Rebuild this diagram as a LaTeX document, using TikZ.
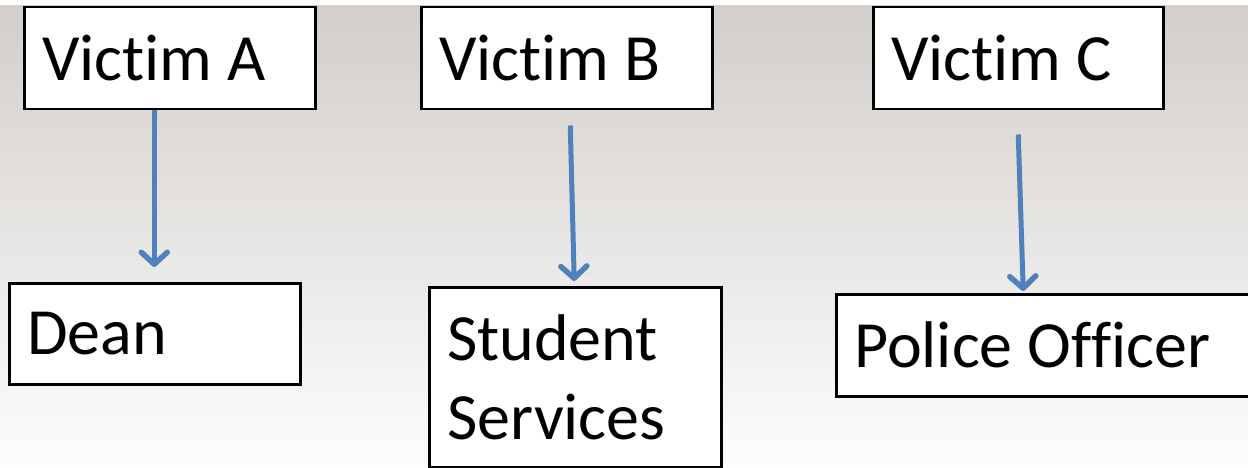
\documentclass[tikz,border=0pt]{standalone}
\usepackage{fontspec}
\setmainfont{Carlito}[Ligatures={NoCommon}]
\usetikzlibrary{arrows.meta}
\definecolor{bgtop}{RGB}{210,206,202}
\definecolor{bgmid}{RGB}{237,236,235}
\definecolor{bgbot}{RGB}{253,253,253}
\definecolor{arrowblue}{RGB}{79,129,189}
\tikzset{
  box/.style={draw=black, line width=2.5pt, fill=white, rectangle, anchor=north west,
    inner xsep=18pt, inner ysep=0pt, align=flush left, font=\fontsize{66}{79}\selectfont},
  arrowlink/.style={draw=arrowblue, line width=5pt,
    arrows={-Straight Barb[length=12pt,width=26pt,line width=5.5pt,round]}}
}
\begin{document}
\begin{tikzpicture}[x=1pt,y=-1pt]
\useasboundingbox (0,0) rectangle (1248,468);
\fill[white] (0,0) rectangle (1248,468);
\shade[top color=bgtop, middle color=bgmid, bottom color=bgbot] (0,6) rectangle (1248,468);
% top row
\node[box, minimum width=291pt, minimum height=102pt, text width=255pt] (vA) at (23,6) {Victim A};
\node[box, minimum width=291pt, minimum height=102pt, text width=255pt] (vB) at (420,6) {Victim B};
\node[box, minimum width=290pt, minimum height=102pt, text width=254pt] (vC) at (872,6) {Victim C};
% bottom row
\node[box, minimum width=291pt, minimum height=101pt, text width=255pt] (dean) at (8,282) {Dean};
\node[box, minimum width=292pt, minimum height=180pt, text width=256pt] (ss) at (428,286) {Student\\Services};
\node[box, minimum width=425pt, minimum height=102pt, text width=389pt] (po) at (835,293) {Police Officer};
% connectors
\draw[arrowlink] ([xshift=-15.5pt]vA.south) -- ([xshift=-0.5pt,yshift=15pt]dean.north);
\draw[arrowlink] ([xshift=3.5pt,yshift=-15pt]vB.south) -- ([xshift=-1pt,yshift=5pt]ss.north);
\draw[arrowlink] ([yshift=-24pt]vC.south) -- ([xshift=-25.5pt,yshift=2pt]po.north);
\end{tikzpicture}
\end{document}
